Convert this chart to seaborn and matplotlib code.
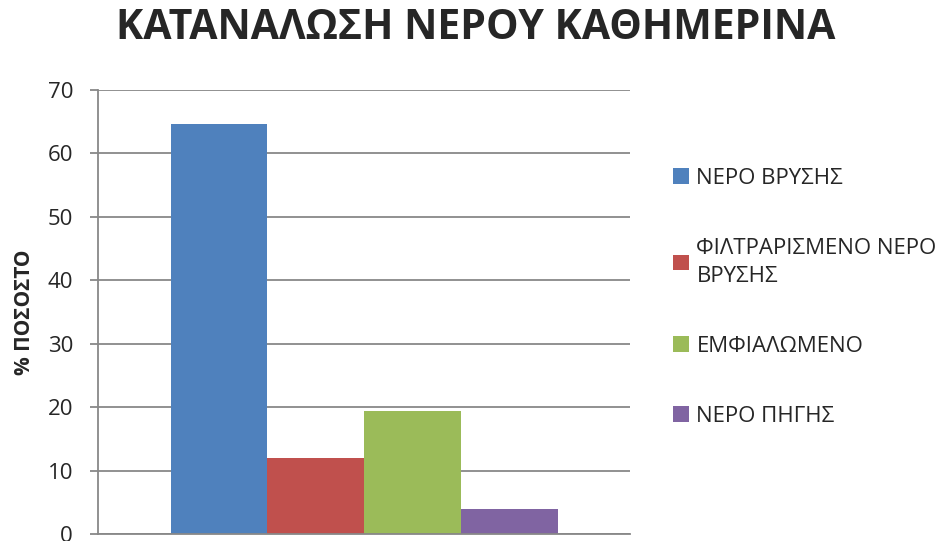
# Water consumption chart (bar chart, single group, 4 series)
import pandas as pd
import matplotlib
matplotlib.use("Agg")
import matplotlib.pyplot as plt
import seaborn as sns

# data
group = ["ΚΑΤΑΝΑΛΩΣΗ"]
series = ["ΝΕΡΟ ΒΡΥΣΗΣ", "ΦΙΛΤΡΑΡΙΣΜΕΝΟ ΝΕΡΟ\nΒΡΥΣΗΣ", "ΕΜΦΙΑΛΩΜΕΝΟ", "ΝΕΡΟ ΠΗΓΗΣ"]
values = [64.6, 12.0, 19.4, 3.9]
colors = ["#4F81BD", "#C0504D", "#9BBB59", "#8064A2"]
yticks = [0, 10, 20, 30, 40, 50, 60, 70]

df = pd.DataFrame({"group": group * len(series), "type": series, "value": values})

sns.set_style("white")
plt.rcParams["font.family"] = ["Open Sans", "DejaVu Sans"]

fig = plt.figure(figsize=(9.52, 5.41), dpi=100)
ax = fig.add_axes([0.103, 0.013, 0.559, 0.821])

sns.barplot(data=df, x="group", y="value", hue="type", hue_order=series,
            palette=colors, width=0.727, gap=0, saturation=1, linewidth=0, ax=ax)

# axes styling
ax.set_xlim(-0.5, 0.5)
ax.set_ylim(0, 70)
ax.set_yticks(yticks)
ax.set_yticklabels([str(t) for t in yticks], fontsize=16)
ax.set_xticks([])
ax.set_xlabel("")
ax.set_ylabel("% ΠΟΣΟΣΤΟ", fontsize=15, fontweight="bold", labelpad=9)
ax.yaxis.grid(True, color="#888888", linewidth=1.3)
ax.set_axisbelow(True)
for s in ["top", "right"]:
    ax.spines[s].set_visible(False)
ax.spines["left"].set_color("#888888")
ax.spines["bottom"].set_color("#888888")
ax.spines["left"].set_linewidth(1.3)
ax.spines["bottom"].set_linewidth(1.3)
ax.tick_params(axis="y", length=6, width=1.3, color="#888888", pad=12, left=True)

# title
fig.text(0.5, 0.947, "ΚΑΤΑΝΑΛΩΣΗ ΝΕΡΟΥ ΚΑΘΗΜΕΡΙΝΑ", ha="center", va="center",
         fontsize=29.5, fontweight="bold")

# legend
handles, labels = ax.get_legend_handles_labels()
ax.get_legend().remove()
leg = fig.legend(handles, labels, loc="upper left", bbox_to_anchor=(0.707, 0.69),
                 frameon=False, fontsize=16, handlelength=0.7, handleheight=0.7,
                 handletextpad=0.35, labelspacing=2.2, borderpad=0, borderaxespad=0)
leg.get_texts()[1].set_linespacing(1.45)

fig.savefig("out.png", dpi=100)
